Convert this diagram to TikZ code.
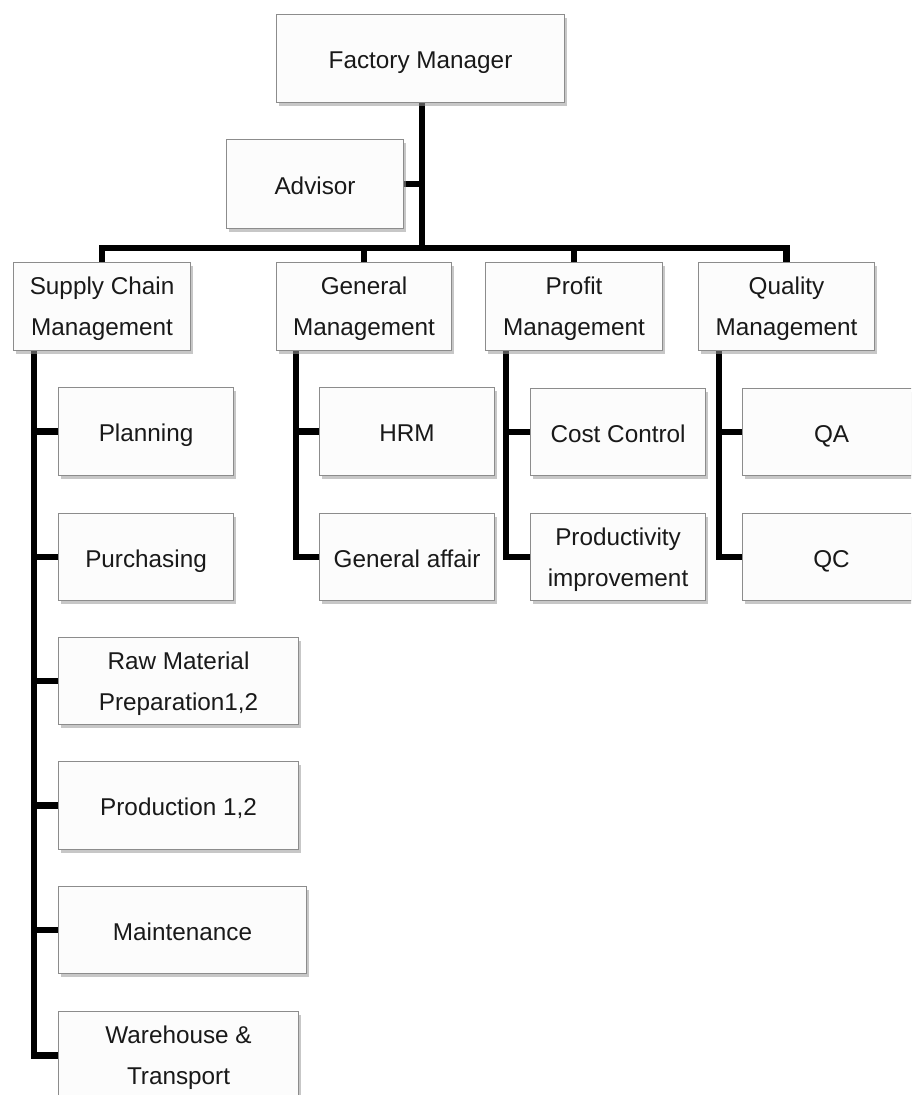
\documentclass[tikz,border=0pt]{standalone}
\usepackage{fontspec}
\setmainfont{Liberation Sans}
\usetikzlibrary{calc,shadows,backgrounds}

\tikzset{
  box/.style={draw=black!45, line width=1.1pt, fill=black!1,
    text=black!90, inner sep=0pt, anchor=north west, align=center,
    font=\fontsize{24.3}{41}\selectfont,
    execute at begin node={\rule{0pt}{25pt}},
    execute at end node={\vphantom{Qg}},
    drop shadow={shadow xshift=2.5pt, shadow yshift=-3pt, fill=black!40, opacity=0.55}},
  twolines/.style={text depth=-2pt},
  conn/.style={line width=6.8pt, black},
}

\begin{document}
\begin{tikzpicture}[x=1pt, y=-1pt]
  \useasboundingbox (0,0) rectangle (911,1095);
  \clip (0,0) rectangle (911,1095);

  % top level
  \node[box, minimum width=288pt, minimum height=88pt] (fm) at (276,14) {Factory Manager};
  \node[box, minimum width=177pt, minimum height=89pt] (adv) at (226,139) {Advisor};

  % departments
  \node[box, twolines, minimum width=177pt, minimum height=88pt] (scm) at (13,262) {Supply Chain\\Management};
  \node[box, twolines, minimum width=175pt, minimum height=88pt] (gm)  at (276,262) {General\\Management};
  \node[box, twolines, minimum width=177pt, minimum height=88pt] (pm)  at (485,262) {Profit\\Management};
  \node[box, twolines, minimum width=176pt, minimum height=88pt] (qm)  at (698,262) {Quality\\Management};

  % supply chain units
  \node[box, minimum width=175pt, minimum height=88pt] (plan) at (58,387) {Planning};
  \node[box, minimum width=175pt, minimum height=87pt] (purch) at (58,513) {Purchasing};
  \node[box, twolines, minimum width=240pt, minimum height=87pt] (raw) at (58,637) {Raw Material\\Preparation1,2};
  \node[box, minimum width=240pt, minimum height=88pt] (prod) at (58,761) {Production 1,2};
  \node[box, minimum width=248pt, minimum height=87pt] (maint) at (58,886) {Maintenance};
  \node[box, twolines, minimum width=240pt, minimum height=88pt] (ware) at (58,1011) {Warehouse \&\\Transport};

  % general management units
  \node[box, minimum width=175pt, minimum height=88pt] (hrm) at (319,387) {HRM};
  \node[box, minimum width=175pt, minimum height=87pt] (ga)  at (319,513) {General affair};

  % profit management units
  \node[box, minimum width=175pt, minimum height=87pt] (cost) at (530,388) {Cost Control};
  \node[box, twolines, minimum width=175pt, minimum height=87pt] (prodimp) at (530,513) {Productivity\\improvement};

  % quality management units
  \node[box, minimum width=178pt, minimum height=87pt] (qa) at (742,388) {QA};
  \node[box, minimum width=178pt, minimum height=87pt] (qc) at (742,513) {QC};

  \begin{scope}[on background layer]
    \fill[white] (0,0) rectangle (911,1095);

    \coordinate (bus) at (422,248);
    \coordinate (scmv) at ($(scm.south west)+(21,0)$);
    \coordinate (gmv) at ($(gm.south west)+(20,0)$);
    \coordinate (pmv) at ($(pm.south west)+(21,0)$);
    \coordinate (qmv) at ($(qm.south west)+(21,0)$);

    % manager trunk and bus
    \draw[conn] (fm.south -| bus) -- (bus);
    \draw[conn] (adv.east) -- (adv.east -| bus);
    \draw[conn] (scm.north) |- (bus) -| (qm.north);
    \draw[conn] (gm.north) -- (gm.north |- bus);
    \draw[conn] (pm.north) -- (pm.north |- bus);

    % supply chain branch
    \draw[conn] (scmv) |- (ware.west);
    \foreach \n in {plan,purch,raw,prod,maint}
      \draw[conn] (scmv |- \n.west) -- (\n.west);

    % general management branch
    \draw[conn] (gmv) |- (ga.west);
    \draw[conn] (gmv |- hrm.west) -- (hrm.west);

    % profit management branch
    \draw[conn] (pmv) |- (prodimp.west);
    \draw[conn] (pmv |- cost.west) -- (cost.west);

    % quality management branch
    \draw[conn] (qmv) |- (qc.west);
    \draw[conn] (qmv |- qa.west) -- (qa.west);
  \end{scope}
\end{tikzpicture}
\end{document}
